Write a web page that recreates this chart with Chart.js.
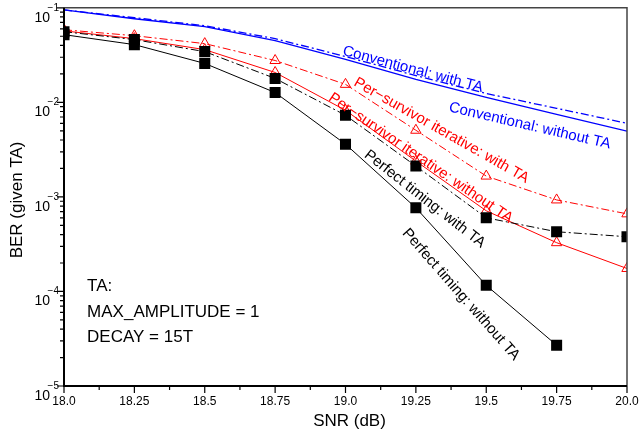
<!DOCTYPE html>
<html>
<head>
<meta charset="utf-8">
<script src="https://cdn.jsdelivr.net/npm/chart.js@4"></script>
<style>
  body { margin: 0; background: #fff; }
  canvas { display: block; }
</style>
</head>
<body>
<canvas id="berChart" width="639" height="431"></canvas>
<script>
// SNR points (dB)
const snr = [18.0, 18.25, 18.5, 18.75, 19.0, 19.25, 19.5, 19.75, 20.0];

// BER values
const convWithTA    = [0.095, 0.0785, 0.0647, 0.0472, 0.0305, 0.0192, 0.0124, 0.00865, 0.00601];
const convWithoutTA = [0.095, 0.0766, 0.0631, 0.0450, 0.0284, 0.0175, 0.0113, 0.00748, 0.00495];
const psWithTA      = [0.0586, 0.0507, 0.0418, 0.0277, 0.0155, 0.00507, 0.00166, 0.000929, 0.000662];
const psWithoutTA   = [0.0570, 0.0472, 0.0361, 0.0207, 0.00824, 0.00239, 0.000713, 0.000328, 0.000175];
const perfWithTA    = [0.0559, 0.0461, 0.0344, 0.0179, 0.00730, 0.00212, 0.000601, 0.000428, 0.000379];
const perfWithoutTA = [0.0520, 0.0408, 0.0258, 0.0127, 0.00361, 0.000766, 0.000116, 0.0000270];

// axis ticks
const xTickLabels = ['18.0', '18.25', '18.5', '18.75', '19.0', '19.25', '19.5', '19.75', '20.0'];
const yTickExps = [-1, -2, -3, -4, -5];

// curve labels drawn along the lines
const annoText = ['Conventional: with TA', 'Conventional: without TA',
  'Per\u2212survivor iterative: with TA', 'Per\u2212survivor iterative: without TA',
  'Perfect timing: with TA', 'Perfect timing: without TA'];
const annoX = [18.991, 19.368, 19.034, 18.945, 19.073, 19.211];
const annoY = [0.0352, 0.00886, 0.01663, 0.01156, 0.00290, 0.000438];
const annoAngle = [15, 13, 29.6, 34.3, 38, 48.7];
const annoColor = ['#0000ff', '#0000ff', '#ff0000', '#ff0000', '#000000', '#000000'];

// parameter box
const noteLines = ['TA:', 'MAX_AMPLITUDE = 1', 'DECAY = 15T'];
const noteX = 18.082;
const noteY = [1.13e-4, 6.01e-5, 3.28e-5];

const FONT = '"Liberation Sans", Arial, Helvetica, sans-serif';
const dashDot = [8, 3, 2, 3];

function pts(vals) {
  return vals.map(function (v, i) { return { x: snr[i], y: v }; });
}

const axesPlugin = {
  id: 'axesDeco',
  afterDraw: function (chart) {
    const ctx = chart.ctx;
    const a = chart.chartArea;
    const xs = chart.scales.x, ys = chart.scales.y;
    ctx.save();

    // annotations
    for (let i = 0; i < annoText.length; i++) {
      ctx.save();
      ctx.translate(xs.getPixelForValue(annoX[i]), ys.getPixelForValue(annoY[i]));
      ctx.rotate(annoAngle[i] * Math.PI / 180);
      ctx.fillStyle = annoColor[i];
      ctx.font = '15px ' + FONT;
      ctx.textAlign = 'left';
      ctx.textBaseline = 'middle';
      ctx.fillText(annoText[i], 0, 0);
      ctx.restore();
    }
    ctx.fillStyle = '#000';
    ctx.font = '17px ' + FONT;
    ctx.textAlign = 'left';
    ctx.textBaseline = 'middle';
    noteLines.forEach(function (t, i) {
      ctx.fillText(t, xs.getPixelForValue(noteX), ys.getPixelForValue(noteY[i]));
    });

    // frame
    ctx.strokeStyle = '#444';
    ctx.lineWidth = 1.5;
    ctx.beginPath();
    ctx.moveTo(a.left, a.top);
    ctx.lineTo(a.right, a.top);
    ctx.lineTo(a.right, a.bottom);
    ctx.stroke();
    ctx.strokeStyle = '#000';
    ctx.lineWidth = 2;
    ctx.beginPath();
    ctx.moveTo(a.left, a.top);
    ctx.lineTo(a.left, a.bottom);
    ctx.lineTo(a.right, a.bottom);
    ctx.stroke();

    // x ticks
    ctx.lineWidth = 1.2;
    ctx.beginPath();
    for (let v = 18; v <= 20.0001; v += 0.125) {
      const px = xs.getPixelForValue(v);
      const major = Math.abs(v * 4 - Math.round(v * 4)) < 1e-6;
      ctx.moveTo(px, a.bottom);
      ctx.lineTo(px, a.bottom + (major ? 7 : 4));
    }
    // y ticks
    yTickExps.forEach(function (e) {
      const py = ys.getPixelForValue(Math.pow(10, e));
      ctx.moveTo(a.left, py);
      ctx.lineTo(a.left - 7, py);
      if (e === -1) return;
      for (let m = 2; m <= 9; m++) {
        const pm = ys.getPixelForValue(m * Math.pow(10, e));
        ctx.moveTo(a.left, pm);
        ctx.lineTo(a.left - 4, pm);
      }
    });
    ctx.stroke();

    // x tick labels
    ctx.font = '12px ' + FONT;
    ctx.textAlign = 'center';
    ctx.textBaseline = 'middle';
    xTickLabels.forEach(function (t, i) {
      ctx.fillText(t, xs.getPixelForValue(snr[i]), a.bottom + 16);
    });

    // y tick labels 10^e
    yTickExps.forEach(function (e) {
      const py = ys.getPixelForValue(Math.pow(10, e));
      ctx.textAlign = 'right';
      ctx.font = '14px ' + FONT;
      ctx.fillText('10', a.left - 14, py + 10);
      ctx.font = '10px ' + FONT;
      ctx.fillText('\u2212' + Math.abs(e), a.left - 5, py);
    });

    // axis titles
    ctx.font = '17px ' + FONT;
    ctx.textAlign = 'center';
    ctx.fillText('SNR (dB)', (a.left + a.right) / 2 + 4, a.bottom + 35);
    ctx.save();
    ctx.translate(17, (a.top + a.bottom) / 2 + 3);
    ctx.rotate(-Math.PI / 2);
    ctx.fillText('BER (given TA)', 0, 0);
    ctx.restore();

    ctx.restore();
  }
};

new Chart(document.getElementById('berChart'), {
  type: 'line',
  data: {
    datasets: [
      {
        label: 'Perfect timing: without TA',
        data: pts(perfWithoutTA),
        borderColor: '#000', backgroundColor: '#000',
        borderWidth: 1, pointStyle: 'rect', pointRadius: 7.8, pointBorderWidth: 0
      },
      {
        label: 'Perfect timing: with TA',
        data: pts(perfWithTA),
        borderColor: '#000', backgroundColor: '#000', borderDash: dashDot,
        borderWidth: 1, pointStyle: 'rect', pointRadius: 7.8, pointBorderWidth: 0
      },
      {
        label: 'Per-survivor iterative: without TA',
        data: pts(psWithoutTA),
        borderColor: '#ff0000', backgroundColor: 'rgba(0,0,0,0)',
        borderWidth: 1, pointStyle: 'triangle', pointRadius: 6, pointBorderWidth: 1
      },
      {
        label: 'Per-survivor iterative: with TA',
        data: pts(psWithTA),
        borderColor: '#ff0000', backgroundColor: 'rgba(0,0,0,0)', borderDash: dashDot,
        borderWidth: 1, pointStyle: 'triangle', pointRadius: 6, pointBorderWidth: 1
      },
      {
        label: 'Conventional: without TA',
        data: pts(convWithoutTA),
        borderColor: '#0000ff', borderWidth: 1.3, pointRadius: 0
      },
      {
        label: 'Conventional: with TA',
        data: pts(convWithTA),
        borderColor: '#0000ff', borderDash: dashDot, borderWidth: 1.3, pointRadius: 0
      }
    ]
  },
  options: {
    responsive: false,
    animation: false,
    layout: { padding: { left: 64, top: 6, right: 12, bottom: 45 } },
    plugins: { legend: { display: false }, tooltip: { enabled: false } },
    elements: { line: { tension: 0 } },
    scales: {
      x: { type: 'linear', min: 18, max: 20, display: false },
      y: { type: 'logarithmic', min: 1e-5, max: 1e-1, display: false }
    }
  },
  plugins: [axesPlugin]
});
</script>
</body>
</html>
